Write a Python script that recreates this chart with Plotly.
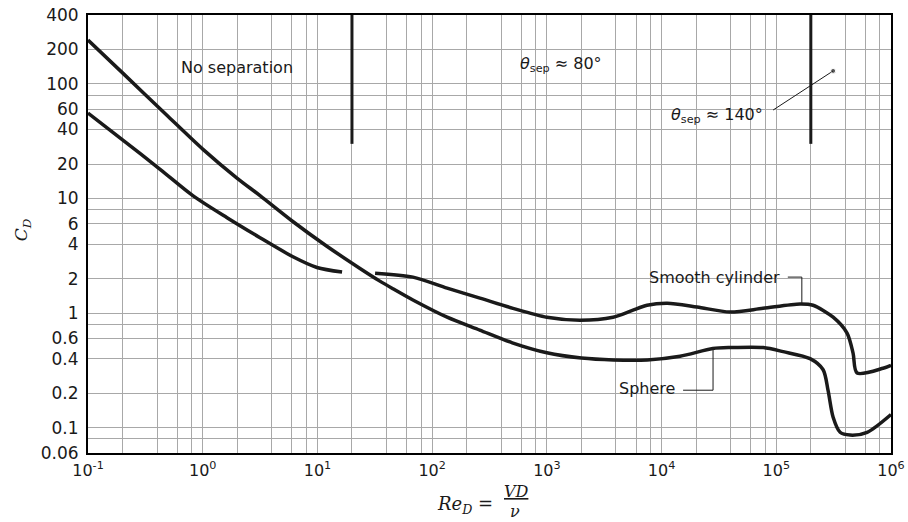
import numpy as np
import plotly.graph_objects as go

# ---------------- data ----------------
sphere_re = [0.1, 0.2, 0.5, 1, 2, 3.16, 6.1, 12, 23.5, 35, 46, 68, 135, 260, 500,
             1000, 2000, 3800, 7500, 14500, 28000, 40000, 77000, 115000, 197000,
             256000, 283000, 313000, 360000, 440000, 620000, 1000000]
sphere_cd = [242, 125, 52, 27, 15, 10.6, 6.3, 3.85, 2.45, 1.9, 1.62, 1.3, 0.92, 0.71, 0.55,
             0.45, 0.405, 0.39, 0.39, 0.42, 0.49, 0.5, 0.5, 0.46, 0.4,
             0.32, 0.21, 0.123, 0.091, 0.086, 0.091, 0.13]

cyl_low_re = [0.1, 0.2, 0.425, 0.82, 1.63, 3.16, 6.12, 9.9, 16.4]
cyl_low_cd = [55.7, 32.5, 18, 10.6, 6.8, 4.55, 3.1, 2.5, 2.28]

cyl_high_re = [31.8, 68, 135, 261, 507, 1000, 1945, 3777, 5500, 7470, 11200, 20400, 39500,
               76700, 161000, 209000, 313000, 414000, 467000, 506000, 853000, 1000000]
cyl_high_cd = [2.23, 2.06, 1.65, 1.35, 1.10, 0.92, 0.867, 0.92, 1.05, 1.17, 1.22, 1.13, 1.02,
               1.10, 1.20, 1.17, 0.92, 0.668, 0.447, 0.30, 0.33, 0.35]

sep_re = [20, 2e5]          # separation-regime boundaries
sep_cd = [30, 400]

x_tickvals = [m * 10.0 ** e for e in range(-1, 7) for m in ([1, 2, 4, 6, 8] if e < 6 else [1])]
x_ticktext = [("10<sup>%d</sup>" % round(np.log10(v))) if abs(np.log10(v) - round(np.log10(v))) < 1e-9 else ""
              for v in x_tickvals]
y_tickvals = [0.06, 0.08, 0.1, 0.2, 0.4, 0.6, 0.8, 1, 2, 4, 6, 8, 10, 20, 40, 60, 80, 100, 200, 400]
y_ticktext = ["0.06", "", "0.1", "0.2", "0.4", "0.6", "", "1", "2", "4", "6", "", "10", "20",
              "40", "60", "", "100", "200", "400"]

INK = "#1a1a1a"
fig = go.Figure()

line_style = dict(color=INK, width=3.5, shape="spline", smoothing=0.8)
fig.add_trace(go.Scatter(x=sphere_re, y=sphere_cd, mode="lines", line=line_style, name="Sphere"))
fig.add_trace(go.Scatter(x=cyl_low_re, y=cyl_low_cd, mode="lines", line=line_style, name="Cylinder"))
fig.add_trace(go.Scatter(x=cyl_high_re, y=cyl_high_cd, mode="lines", line=line_style, name="Cylinder2"))

for r in sep_re:
    fig.add_trace(go.Scatter(x=[r, r], y=sep_cd, mode="lines", line=dict(color=INK, width=3)))

# leader lines
thin = dict(color=INK, width=1)
fig.add_trace(go.Scatter(x=[93800, 313000], y=[59.2, 130], mode="lines+markers", line=thin,
                         marker=dict(size=[0, 5], color=INK)))
fig.add_trace(go.Scatter(x=[126000, 167000, 167000], y=[2.06, 2.06, 1.18], mode="lines", line=thin))
fig.add_trace(go.Scatter(x=[15400, 28100, 28100], y=[0.212, 0.212, 0.475], mode="lines", line=thin))

sans = dict(family="DejaVu Sans", size=16, color=INK)
L = np.log10
ann = [
    dict(x=L(2), y=L(140), text="No separation"),
    dict(x=3.123, y=2.174, text="<i>θ</i><sub>sep</sub> ≈ 80°"),
    dict(x=4.483, y=1.729, text="<i>θ</i><sub>sep</sub> ≈ 140°"),
    dict(x=4.457, y=0.314, text="Smooth cylinder"),
    dict(x=3.873, y=-0.656, text="Sphere"),
]
annotations = [dict(a, xref="x", yref="y", showarrow=False, font=sans,
                    xanchor="center", yanchor="middle") for a in ann]

serif = dict(family="DejaVu Serif", size=18, color=INK)
frac = dict(family="DejaVu Serif", size=16, color=INK)
annotations += [
    dict(xref="paper", yref="paper", x=-0.082, y=0.509, text="<i>C<sub>D</sub></i>",
         xanchor="center", yanchor="middle",
         textangle=-90, showarrow=False, font=dict(family="DejaVu Serif", size=17, color=INK)),
    dict(xref="paper", yref="paper", x=0.507, y=-0.118, xanchor="right", yanchor="middle",
         text="<i>Re<sub>D</sub></i> =", showarrow=False, font=serif),
    dict(xref="paper", yref="paper", x=0.515, y=-0.088, xanchor="left", yanchor="middle",
         text="<i><u>VD</u></i>", showarrow=False, font=frac),
    dict(xref="paper", yref="paper", x=0.532, y=-0.134, xanchor="center", yanchor="middle",
         text="<i>ν</i>", showarrow=False, font=frac),
]

axis_common = dict(type="log", showgrid=True, gridcolor="#a8a8a8", gridwidth=1,
                   showline=True, linecolor="black", linewidth=2, mirror=True,
                   ticks="", zeroline=False, automargin=False)
fig.update_xaxes(**axis_common, range=[-1, 6], tickmode="array", tickvals=x_tickvals,
                 ticktext=x_ticktext, tickfont=dict(family="DejaVu Sans", size=16, color=INK),
                 ticklabelstandoff=2)
fig.update_yaxes(**axis_common, range=[L(0.06), L(400)], tickmode="array", tickvals=y_tickvals,
                 ticktext=y_ticktext, tickfont=dict(family="DejaVu Sans", size=17, color=INK),
                 ticklabelstandoff=4)

fig.update_layout(width=908, height=522, margin=dict(l=88, r=17, t=15, b=69),
                  paper_bgcolor="white", plot_bgcolor="white", showlegend=False,
                  annotations=annotations)

fig.write_html("out.html", config={"displayModeBar": False},
               post_script="document.body.style.margin='0';document.body.style.overflow='hidden';")
